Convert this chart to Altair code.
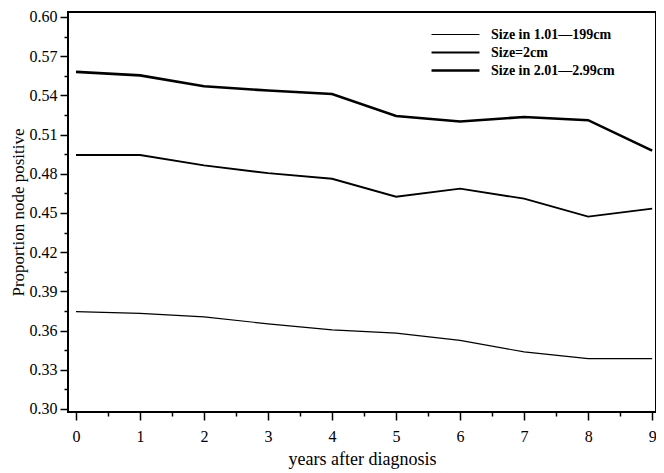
import altair as alt
import pandas as pd

years = [0, 1, 2, 3, 4, 5, 6, 7, 8, 9]
series_names = ["Size in 1.01\u2014199cm", "Size=2cm", "Size in 2.01\u20142.99cm"]
thin = [0.3745, 0.3732, 0.3705, 0.3652, 0.3606, 0.3580, 0.3525, 0.3437, 0.3385, 0.3385]
medium = [0.4944, 0.4944, 0.4864, 0.4805, 0.4762, 0.4624, 0.4686, 0.4610, 0.4472, 0.4533]
thick = [0.5580, 0.5553, 0.5470, 0.5437, 0.5411, 0.5242, 0.5200, 0.5235, 0.5210, 0.4977]
y_ticks = [0.30, 0.315, 0.33, 0.345, 0.36, 0.375, 0.39, 0.405, 0.42, 0.435, 0.45,
           0.465, 0.48, 0.495, 0.51, 0.525, 0.54, 0.555, 0.57, 0.585, 0.60]
x_ticks = [0, 0.5, 1, 1.5, 2, 2.5, 3, 3.5, 4, 4.5, 5, 5.5, 6, 6.5, 7, 7.5, 8, 8.5, 9]

rows = []
for name, vals in zip(series_names, [thin, medium, thick]):
    for yr, v in zip(years, vals):
        rows.append({"year": yr, "value": v, "series": name})
df = pd.DataFrame(rows)

FONT = "Liberation Serif"
xscale = alt.Scale(domain=[-0.125, 9.06], nice=False, zero=False)
yscale = alt.Scale(domain=[0.2977, 0.6038], nice=False, zero=False)

x_major_test = "round(datum.value * 2) % 2 == 0"
y_major_test = "round(datum.value * 1000) % 30 == 0"

chart = alt.Chart(df).mark_line(color="black").encode(
    x=alt.X("year:Q", scale=xscale, title="years after diagnosis",
            axis=alt.Axis(values=x_ticks, labelOverlap=False,
                          labelExpr=f"{x_major_test} ? format(datum.value, 'd') : ''",
                          tickSize={"condition": {"test": x_major_test, "value": 8}, "value": 4},
                          tickWidth=1.5, tickColor="black", domain=False, grid=False,
                          labelFont=FONT, labelFontSize=16, labelColor="black",
                          labelPadding=8, titleFont=FONT, titleFontSize=18,
                          titleFontWeight="normal", titleColor="black", titlePadding=6)),
    y=alt.Y("value:Q", scale=yscale, title="Proportion node positive",
            axis=alt.Axis(values=y_ticks, labelOverlap=False,
                          labelExpr=f"{y_major_test} ? format(datum.value, '.2f') : ''",
                          tickSize={"condition": {"test": y_major_test, "value": 8}, "value": 4},
                          tickWidth=1.5, tickColor="black", domain=False, grid=False,
                          labelFont=FONT, labelFontSize=16, labelColor="black",
                          labelPadding=3, titleFont=FONT, titleFontSize=17,
                          titleFontWeight="normal", titleColor="black", titlePadding=2)),
    strokeWidth=alt.StrokeWidth("series:N",
        scale=alt.Scale(domain=series_names, range=[1.2, 2.6, 5.2]),
        sort=series_names,
        legend=alt.Legend(title=None, orient="none", legendX=362, legendY=14,
                          symbolType="stroke", symbolSize=2300, symbolStrokeColor="black",
                          clipHeight=17, rowPadding=1,
                          labelFont=FONT, labelFontSize=14, labelFontWeight="bold",
                          labelColor="black", labelOffset=10)),
    detail="series:N",
).properties(
    width=588, height=400,
    autosize=alt.AutoSizeParams(type="none"),
    padding={"left": 60, "top": 4, "right": 0, "bottom": 58},
    background="white",
).configure_view(stroke="black", strokeWidth=2)

chart.save("out.html", embed_options={"renderer": "svg", "actions": False})
